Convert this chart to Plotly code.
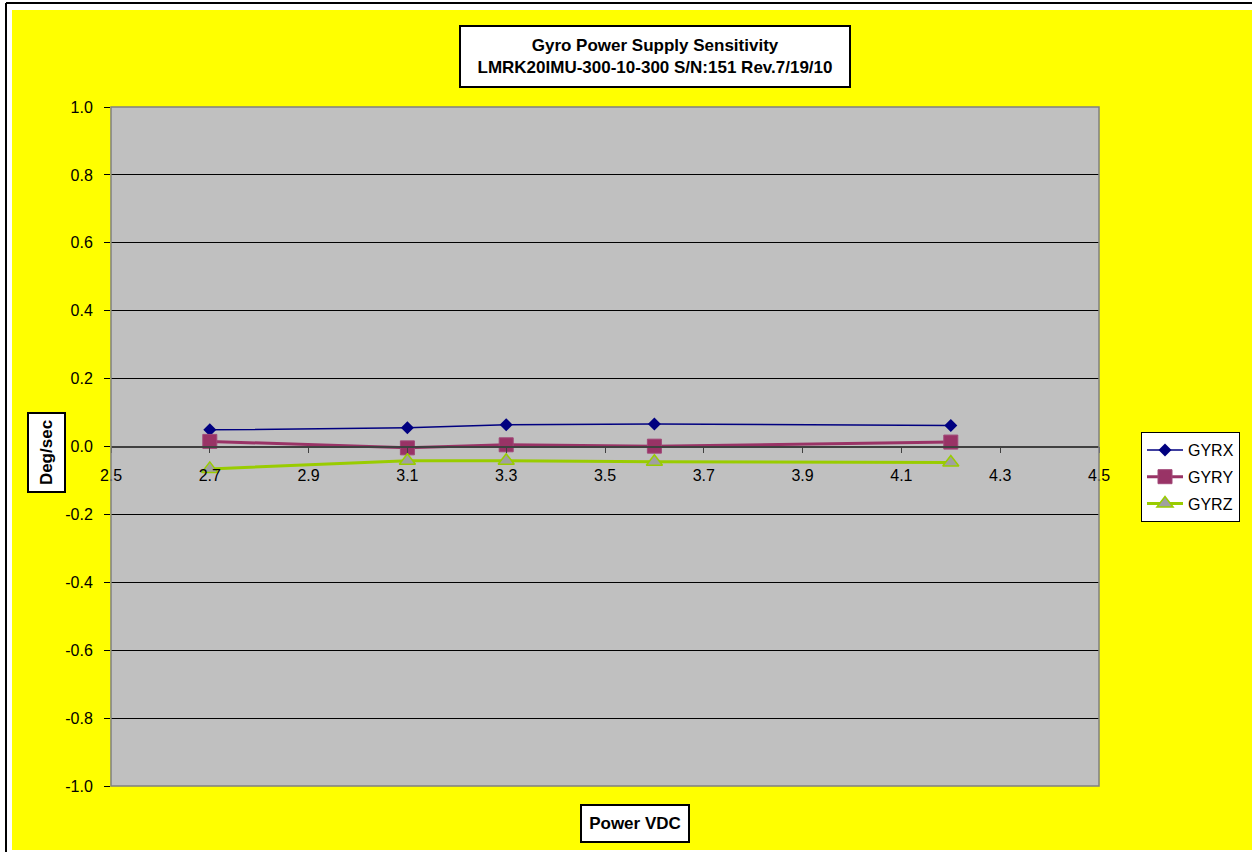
import plotly.graph_objects as go

# ---- data ----
power_vdc = [2.7, 3.1, 3.3, 3.6, 4.2]
gyrx = [0.049, 0.055, 0.064, 0.066, 0.062]
gyry = [0.015, -0.004, 0.005, 0.001, 0.013]
gyrz = [-0.066, -0.042, -0.042, -0.045, -0.047]
x_ticks = [2.5, 2.7, 2.9, 3.1, 3.3, 3.5, 3.7, 3.9, 4.1, 4.3, 4.5]
x_tick_labels = ["2.5", "2.7", "2.9", "3.1", "3.3", "3.5", "3.7", "3.9", "4.1", "4.3", "4.5"]
y_ticks = [1.0, 0.8, 0.6, 0.4, 0.2, 0.0, -0.2, -0.4, -0.6, -0.8, -1.0]
y_tick_labels = ["1.0", "0.8", "0.6", "0.4", "0.2", "0.0", "-0.2", "-0.4", "-0.6", "-0.8", "-1.0"]
title_lines = ["Gyro Power Supply Sensitivity", "LMRK20IMU-300-10-300 S/N:151 Rev.7/19/10"]

# ---- layout geometry (pixels) ----
W, H = 1252, 852
PL, PR, PT, PB = 111, 1099, 107, 786
pw, ph = PR - PL, PB - PT


def px(x):
    return (x - PL) / pw


def py(y):
    return (PB - y) / ph


FONT = "Arial, Liberation Sans, sans-serif"

fig = go.Figure()
fig.add_trace(go.Scatter(
    x=power_vdc, y=gyrx, name="GYRX", mode="lines+markers", legendgroup="a",
    line=dict(color="#000080", width=1.5),
    marker=dict(symbol="diamond", size=10, color="#000080")))
fig.add_trace(go.Scatter(
    x=power_vdc, y=gyry, name="GYRY", mode="lines+markers", legendgroup="b",
    line=dict(color="#993366", width=3),
    marker=dict(symbol="square", size=14, color="#993366",
                line=dict(color="#A04878", width=1))))
fig.add_trace(go.Scatter(
    x=power_vdc, y=gyrz, name="GYRZ", mode="lines+markers", legendgroup="c",
    line=dict(color="#99CC00", width=3),
    marker=dict(symbol="triangle-up", size=14, color="#A0A0A0",
                line=dict(color="#99CC00", width=1.5))))

shapes = [
    # white margin strips + black frame
    dict(type="rect", xref="paper", yref="paper", x0=px(0), x1=px(12), y0=py(0), y1=py(H),
         fillcolor="white", line_width=0, layer="below"),
    dict(type="rect", xref="paper", yref="paper", x0=px(0), x1=px(W), y0=py(0), y1=py(10),
         fillcolor="white", line_width=0, layer="below"),
    dict(type="rect", xref="paper", yref="paper", x0=px(0), x1=px(W), y0=py(850), y1=py(H),
         fillcolor="white", line_width=0, layer="below"),
    dict(type="line", xref="paper", yref="paper", x0=px(6), x1=px(6), y0=py(3), y1=py(H),
         line=dict(color="black", width=2)),
    dict(type="line", xref="paper", yref="paper", x0=px(6), x1=px(W), y0=py(3), y1=py(3),
         line=dict(color="black", width=2)),
    # plot area border
    dict(type="rect", xref="paper", yref="paper", x0=0, x1=1, y0=0, y1=1,
         line=dict(color="#808080", width=1.5), layer="above"),
]

annotations = [
    dict(text="<b>" + "<br>".join(title_lines) + "</b>", xref="paper", yref="paper",
         x=px(655), y=py(56), xanchor="center", yanchor="middle", showarrow=False,
         font=dict(family=FONT, size=17, color="black"), bgcolor="white",
         bordercolor="black", borderwidth=2, borderpad=3, width=382, height=53),
    dict(text="<b>Deg/sec</b>", xref="paper", yref="paper", textangle=-90,
         x=px(46.5), y=py(452.5), xanchor="center", yanchor="middle", showarrow=False,
         font=dict(family=FONT, size=17, color="black"), bgcolor="white",
         bordercolor="black", borderwidth=2, borderpad=3, width=71, height=29),
    dict(text="<b>Power VDC</b>", xref="paper", yref="paper",
         x=px(635), y=py(823), xanchor="center", yanchor="middle", showarrow=False,
         font=dict(family=FONT, size=17, color="black"), bgcolor="white",
         bordercolor="black", borderwidth=2, borderpad=3, width=100, height=29),
]

fig.update_layout(
    width=W, height=H,
    margin=dict(l=PL, r=W - PR, t=PT, b=H - PB, pad=0),
    paper_bgcolor="#FFFF00",
    plot_bgcolor="#C0C0C0",
    font=dict(family=FONT, size=16, color="black"),
    showlegend=True,
    legend=dict(x=px(1141), y=py(432), xanchor="left", yanchor="top",
                bgcolor="white", bordercolor="black", borderwidth=1,
                font=dict(family=FONT, size=16, color="black"),
                traceorder="grouped", tracegroupgap=3, itemwidth=36),
    xaxis=dict(range=[2.5, 4.5], tickvals=x_ticks, ticktext=x_tick_labels,
               anchor="free", position=0.5, showgrid=False, zeroline=False,
               showline=True, linecolor="#404040", linewidth=1.5,
               ticks="outside", ticklen=6, tickcolor="#404040",
               ticklabelstandoff=9,
               tickfont=dict(family=FONT, size=16, color="black")),
    yaxis=dict(range=[-1.0, 1.0], tickvals=y_ticks, ticktext=y_tick_labels,
               showgrid=True, gridcolor="black", gridwidth=1,
               zeroline=True, zerolinecolor="#404040", zerolinewidth=1.5,
               showline=False, ticks="outside", ticklen=6, tickcolor="black",
               ticklabelstandoff=8,
               tickfont=dict(family=FONT, size=16, color="black")),
    shapes=shapes,
    annotations=annotations,
)

fig.write_html("out.html", config={"displayModeBar": False},
               post_script="document.body.style.margin='0px';document.body.style.overflow='hidden';")
